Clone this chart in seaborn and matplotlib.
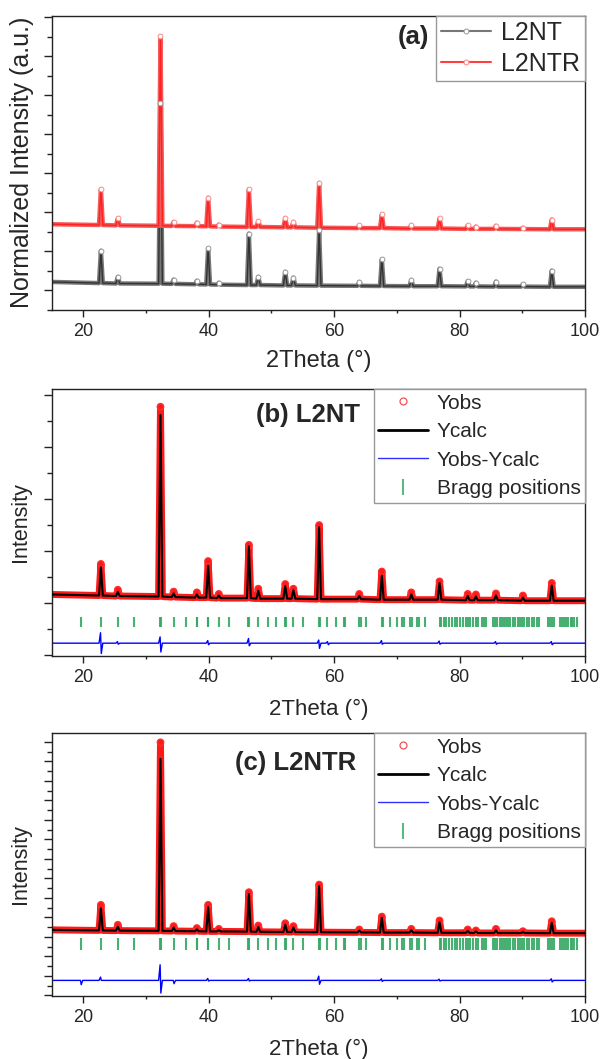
import numpy as np
import pandas as pd
import matplotlib
matplotlib.use("Agg")
import matplotlib.pyplot as plt
from matplotlib.lines import Line2D
from matplotlib.ticker import MultipleLocator, AutoMinorLocator
import seaborn as sns

# ---------------- data ----------------
PEAK_2THETA = [22.8, 25.5, 32.3, 34.4, 38.1, 39.9, 41.6, 46.4, 47.9, 52.2, 53.5,
               57.6, 64.0, 67.6, 72.3, 76.8, 81.3, 82.6, 85.8, 90.1, 94.7]

# panel (a) - normalized intensity (offset patterns)
A_L2NT_TOP = [1.01, 0.34, 4.79, 0.27, 0.24, 1.07, 0.19, 1.45, 0.34, 0.47, 0.32,
              1.54, 0.21, 0.79, 0.26, 0.55, 0.23, 0.19, 0.22, 0.15, 0.50]
A_L2NT_BASE = [0.18, 0.17, 0.165, 0.16, 0.15, 0.145, 0.14, 0.13, 0.13, 0.12, 0.12,
               0.115, 0.11, 0.105, 0.10, 0.10, 0.095, 0.095, 0.09, 0.09, 0.085]
A_L2NT_ENDS = [0.21, 0.085]
A_L2NTR_TOP = [2.59, 1.84, 6.51, 1.75, 1.73, 2.37, 1.68, 2.59, 1.77, 1.85, 1.75,
               2.75, 1.66, 1.94, 1.67, 1.84, 1.66, 1.63, 1.65, 1.60, 1.81]
A_L2NTR_BASE = [1.67, 1.66, 1.65, 1.645, 1.64, 1.635, 1.63, 1.62, 1.62, 1.61, 1.61,
                1.60, 1.59, 1.59, 1.58, 1.58, 1.57, 1.57, 1.57, 1.565, 1.56]
A_L2NTR_ENDS = [1.69, 1.56]

# panel (b) - L2NT refinement
B_OBS_TOP = [1.755, 1.26, 4.77, 1.225, 1.21, 1.81, 1.18, 2.12, 1.28, 1.37, 1.28,
             2.50, 1.18, 1.61, 1.21, 1.42, 1.18, 1.17, 1.19, 1.15, 1.39]
B_CALC_TOP = [1.69, 1.22, 4.61, 1.19, 1.17, 1.72, 1.15, 2.09, 1.24, 1.33, 1.25,
              2.46, 1.14, 1.53, 1.17, 1.39, 1.14, 1.13, 1.15, 1.11, 1.34]
B_BASE = [1.15, 1.14, 1.13, 1.12, 1.11, 1.11, 1.10, 1.10, 1.09, 1.09, 1.09,
          1.08, 1.08, 1.07, 1.07, 1.07, 1.06, 1.06, 1.06, 1.05, 1.05]
B_ENDS = [1.17, 1.05]
B_DIFF_LEVEL = 0.236
B_DIFF_POS = [22.8, 25.5, 32.3, 39.9, 46.4, 57.6, 59.0, 67.6, 76.8, 85.8, 94.7]
B_DIFF_UP = [0.20, 0.03, 0.12, 0.05, 0.09, 0.06, 0.03, 0.05, 0.04, 0.03, 0.03]
B_DIFF_DOWN = [0.20, 0.02, 0.17, 0.03, 0.05, 0.10, 0.03, 0.02, 0.02, 0.02, 0.03]

# panel (c) - L2NTR refinement
C_OBS_TOP = [4.64, 3.62, 12.97, 3.55, 3.45, 4.64, 3.41, 5.29, 3.58, 3.70, 3.55,
             5.68, 3.38, 4.04, 3.41, 3.84, 3.38, 3.33, 3.41, 3.29, 3.80]
C_CALC_TOP = [4.47, 3.52, 12.12, 3.48, 3.38, 4.52, 3.34, 5.20, 3.50, 3.62, 3.48,
              5.60, 3.32, 3.98, 3.34, 3.75, 3.30, 3.28, 3.33, 3.24, 3.72]
C_BASE = [3.33, 3.32, 3.31, 3.30, 3.29, 3.28, 3.28, 3.27, 3.26, 3.25, 3.25,
          3.24, 3.23, 3.22, 3.22, 3.21, 3.21, 3.20, 3.20, 3.20, 3.19]
C_ENDS = [3.36, 3.19]
C_DIFF_LEVEL = 0.77
C_DIFF_POS = [19.6, 22.8, 32.3, 34.4, 39.9, 46.4, 57.6, 67.6, 76.8, 94.7]
C_DIFF_UP = [0.0, 0.17, 0.80, 0.0, 0.10, 0.10, 0.22, 0.08, 0.06, 0.08]
C_DIFF_DOWN = [0.22, 0.0, 0.65, 0.17, 0.03, 0.03, 0.20, 0.05, 0.03, 0.08]

BRAGG_2THETA = [19.7, 22.8, 25.5, 28.0, 32.3, 32.45, 34.4, 36.3, 38.05, 38.2, 39.8, 39.95,
                41.6, 43.25, 46.3, 46.45, 47.8, 49.4, 50.7, 52.1, 52.25, 53.5, 55.1,
                57.5, 57.7, 58.9, 60.3, 61.5, 61.7, 64.0, 64.2, 65.1, 67.6, 67.8, 68.9,
                70.0, 70.8, 71.2, 72.1, 72.4, 73.2, 73.6, 74.5,
                76.8, 77.1, 77.5, 77.9, 78.3, 78.8, 79.2, 79.6, 80.1, 80.5, 81.0, 81.3,
                81.7, 82.2, 82.6, 83.0, 83.5, 83.9, 84.2,
                85.4, 85.7, 86.0, 86.4, 86.7, 87.1, 87.4, 87.8, 88.1, 88.5, 88.9, 89.3,
                89.6, 90.0, 90.3, 90.7, 91.1, 91.5, 91.9, 92.3, 92.7,
                94.1, 94.4, 94.7, 95.0, 96.0, 96.3, 96.7, 97.0, 97.3, 97.7, 98.0, 98.3, 98.7]

X_TICKS = [20, 40, 60, 80, 100]

# ---------------- styling ----------------
sns.set_theme(style="ticks")
plt.rcParams["font.family"] = ["Liberation Sans", "DejaVu Sans"]
plt.rcParams["axes.linewidth"] = 1.0
plt.rcParams["axes.edgecolor"] = "#222222"

W = 0.3  # drawn half width of a peak (style)


def pattern(top, base, ends):
    xs, ys, apex = [15.0], [ends[0]], [False]
    for c, h, b in zip(PEAK_2THETA, top, base):
        xs += [c - W, c, c + W]
        ys += [b, h, b]
        apex += [False, True, False]
    xs.append(100.0)
    ys.append(ends[1])
    apex.append(False)
    return pd.DataFrame({"x": xs, "y": ys, "apex": apex})


def diff_curve(level, pos, up, down):
    xs, ys = [15.0], [level]
    for c, u, d in zip(pos, up, down):
        xs += [c - 0.3, c - 0.06, c + 0.06, c + 0.3]
        ys += [level, level + u, level - d, level]
    xs.append(100.0)
    ys.append(level)
    return pd.DataFrame({"x": xs, "y": ys})


def style_axis(ax, ylim):
    ax.set_xlim(15, 100)
    ax.set_ylim(*ylim)
    ax.set_xticks(X_TICKS)
    ax.set_xticklabels([str(t) for t in X_TICKS])
    ax.xaxis.set_minor_locator(MultipleLocator(10))
    ax.yaxis.set_major_locator(MultipleLocator(1))
    ax.yaxis.set_minor_locator(AutoMinorLocator(2))
    ax.tick_params(axis="x", which="major", direction="out", length=5, width=1.0,
                   labelsize=13, pad=4, color="#222222")
    ax.tick_params(axis="x", which="minor", direction="out", length=2.5, width=1.0,
                   color="#222222")
    ax.tick_params(axis="y", which="major", direction="out", length=5.5, width=1.0,
                   labelleft=False, color="#222222")
    ax.tick_params(axis="y", which="minor", direction="out", length=3.5, width=1.0,
                   color="#222222")
    for s in ax.spines.values():
        s.set_visible(True)
        s.set_linewidth(1.0)
        s.set_color("#222222")
    ax.set_facecolor("white")


fig = plt.figure(figsize=(6.02, 10.59), dpi=100)
fig.patch.set_facecolor("white")

# ---------------- panel (a) ----------------
axa = fig.add_axes([52 / 602, 1 - 310 / 1059, 533 / 602, 294 / 1059])
for top, base, ends, band, line, mk in [
        (A_L2NT_TOP, A_L2NT_BASE, A_L2NT_ENDS, "#777777", "#333333", "#9a9a9a"),
        (A_L2NTR_TOP, A_L2NTR_BASE, A_L2NTR_ENDS, "#f25a5a", "#ff2020", "#ff8c8c")]:
    df = pattern(top, base, ends)
    sns.lineplot(data=df, x="x", y="y", ax=axa, color=band, lw=3.2, sort=False,
                 estimator=None, legend=False, solid_joinstyle="round")
    sns.lineplot(data=df, x="x", y="y", ax=axa, color=line, lw=1.0, sort=False,
                 estimator=None, legend=False)
    sns.scatterplot(data=df[df["apex"]], x="x", y="y", ax=axa, marker="o", s=12,
                    facecolor="white", edgecolor=mk, linewidth=0.7, legend=False,
                    zorder=3)
style_axis(axa, (-0.51, 7.03))
axa.set_xlabel("2Theta (°)", fontsize=17)
axa.xaxis.label.set_va("center")
axa.xaxis.set_label_coords(0.5, -0.173)
axa.set_ylabel("Normalized Intensity (a.u.)", fontsize=18)
axa.yaxis.label.set_va("center")
axa.yaxis.set_label_coords(-0.056, 0.503)
axa.text(0.679, 0.929, "(a)", transform=axa.transAxes, fontsize=18.5,
         fontweight="bold", ha="center", va="center")
ha = [Line2D([], [], color="#777777", lw=1.5, marker="o", ms=3.5, mfc="white",
             mec="#999999", mew=0.7),
      Line2D([], [], color="#ff4040", lw=1.5, marker="o", ms=3.5, mfc="white",
             mec="#ff8080", mew=0.7)]
lga = axa.legend(ha, ["L2NT", "L2NTR"], loc="upper right", bbox_to_anchor=(1.0, 1.0),
                 borderaxespad=0, fontsize=18, frameon=True, fancybox=False,
                 edgecolor="#999999", framealpha=1, handlelength=2.0,
                 handletextpad=0.4, labelspacing=0.28, borderpad=0.2, numpoints=1)
lga.get_frame().set_linewidth(1.0)


# ---------------- refinement panels ----------------
def refinement(ax, obs_top, calc_top, base, ends, dlev, dpos, dup, ddown,
               bragg_lo, bragg_hi, ylim):
    obs = pattern(obs_top, base, ends)
    calc = pattern(calc_top, base, ends)
    diff = diff_curve(dlev, dpos, dup, ddown)
    sns.lineplot(data=obs, x="x", y="y", ax=ax, color="#ff1a1a", lw=5.0, sort=False,
                 estimator=None, legend=False, solid_joinstyle="round")
    sns.scatterplot(data=obs[obs["apex"]], x="x", y="y", ax=ax, marker="o", s=22,
                    facecolor="none", edgecolor="#ff3030", linewidth=0.9,
                    legend=False, zorder=3)
    sns.lineplot(data=calc, x="x", y="y", ax=ax, color="black", lw=1.5, sort=False,
                 estimator=None, legend=False, zorder=4)
    sns.lineplot(data=diff, x="x", y="y", ax=ax, color="#0000ff", lw=1.0, sort=False,
                 estimator=None, legend=False)
    ax.vlines(BRAGG_2THETA, bragg_lo, bragg_hi, colors="#35a865", lw=1.5, alpha=0.9)
    style_axis(ax, ylim)
    ax.set_ylabel("Intensity", fontsize=15.5)
    ax.yaxis.label.set_va("center")
    ax.yaxis.set_label_coords(-0.059, 0.5)
    h = [Line2D([], [], ls="none", marker="o", ms=5, mfc="none", mec="#f05050",
                mew=0.9),
         Line2D([], [], color="black", lw=2.0),
         Line2D([], [], color="#3030ff", lw=1.0),
         Line2D([], [], ls="none", marker="|", ms=11, mec="#5cb885", mew=1.5)]
    lg = ax.legend(h, ["Yobs", "Ycalc", "Yobs-Ycalc", "Bragg positions"],
                   loc="upper right", bbox_to_anchor=(1.0, 1.0), borderaxespad=0,
                   fontsize=15, frameon=True, fancybox=False, edgecolor="#999999",
                   framealpha=1, handlelength=2.4, handletextpad=0.4,
                   labelspacing=0.46, borderpad=0.22, numpoints=1)
    lg.get_frame().set_linewidth(1.0)


axb = fig.add_axes([52 / 602, 1 - 656 / 1059, 533 / 602, 267 / 1059])
refinement(axb, B_OBS_TOP, B_CALC_TOP, B_BASE, B_ENDS, B_DIFF_LEVEL, B_DIFF_POS,
           B_DIFF_UP, B_DIFF_DOWN, 0.54, 0.73, (-0.01, 5.11))
axb.set_xlabel("2Theta (°)", fontsize=16)
axb.xaxis.label.set_va("center")
axb.xaxis.set_label_coords(0.5, -0.202)
axb.text(0.48, 0.903, "(b) L2NT", transform=axb.transAxes, fontsize=18.5,
         fontweight="bold", ha="center", va="center")

axc = fig.add_axes([52 / 602, 1 - 996 / 1059, 533 / 602, 263 / 1059])
refinement(axc, C_OBS_TOP, C_CALC_TOP, C_BASE, C_ENDS, C_DIFF_LEVEL, C_DIFF_POS,
           C_DIFF_UP, C_DIFF_DOWN, 2.35, 2.94, (-0.03, 13.45))
axc.set_xlabel("2Theta (°)", fontsize=16)
axc.xaxis.label.set_va("center")
axc.xaxis.set_label_coords(0.5, -0.205)
axc.text(0.457, 0.886, "(c) L2NTR", transform=axc.transAxes, fontsize=18.5,
         fontweight="bold", ha="center", va="center")

fig.savefig("out.png", dpi=100, facecolor="white")
